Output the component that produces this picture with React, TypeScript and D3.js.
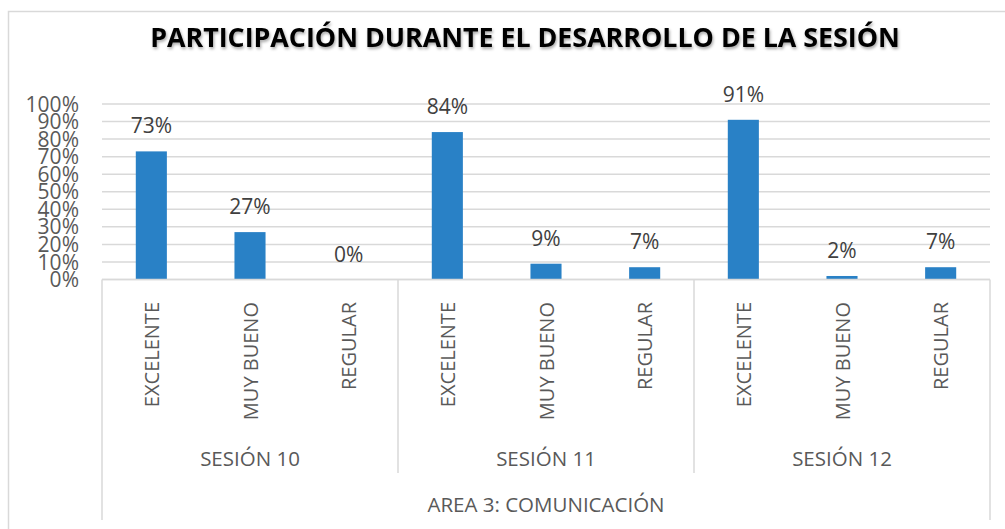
import React from 'react';
import * as d3 from 'd3';

// data
const sessions = ['SESIÓN 10', 'SESIÓN 11', 'SESIÓN 12'];
const ratings = ['EXCELENTE', 'MUY BUENO', 'REGULAR'];
const sesion10 = [73, 27, 0];
const sesion11 = [84, 9, 7];
const sesion12 = [91, 2, 7];
const yTicks = [0, 10, 20, 30, 40, 50, 60, 70, 80, 90, 100];
const title = 'PARTICIPACIÓN DURANTE EL DESARROLLO DE LA SESIÓN';
const areaLabel = 'AREA 3: COMUNICACIÓN';

const FONT = '"Open Sans", "Noto Sans", sans-serif';
const GRID = '#d9d9d9';
const BAR = '#2981c6';

export default function App() {
  const width = 1005;
  const height = 529;
  const left = 102;
  const right = 990;
  const top = 104;
  const baseline = 279.5;

  const rows = [sesion10, sesion11, sesion12];
  const bars = rows.flatMap((vals, g) =>
    vals.map((v, i) => ({ key: `${g}-${i}`, group: g, rating: ratings[i], value: v }))
  );

  const x = d3.scaleBand<string>()
    .domain(bars.map((d) => d.key))
    .range([left, right])
    .padding(0);
  const barW = x.bandwidth() * 0.315;

  const y = d3.scaleLinear().domain([0, 100]).range([baseline, top]);

  const groupX = d3.scaleBand<number>()
    .domain(sessions.map((_, i) => i))
    .range([left, right])
    .padding(0);

  return (
    <svg width={width} height={height} style={{ position: 'absolute', left: 0, top: 0 }}
      fontFamily={FONT}>
      <defs>
        <filter id="shadow" x="-5%" y="-30%" width="110%" height="160%">
          <feDropShadow dx="1" dy="2" stdDeviation="1.5" floodColor="#000" floodOpacity="0.35" />
        </filter>
      </defs>
      <rect x={0} y={0} width={width} height={height} fill="#fff" />
      {/* chart frame */}
      <path d={`M8.5,${height} V11.5 H${width}`} fill="none" stroke={GRID} strokeWidth={1.5} />

      <text x={525} y={47} textAnchor="middle" fontWeight="bold" fontSize={26.8}
        fill="#000" filter="url(#shadow)">{title}</text>

      {/* gridlines */}
      {yTicks.map((t) => (
        <line key={t} x1={left} x2={right} y1={y(t)} y2={y(t)} stroke={GRID} strokeWidth={1.5} />
      ))}
      {yTicks.map((t) => (
        <text key={'l' + t} x={79} y={y(t)} dy="0.36em" textAnchor="end" fontSize={21}
          fill="#595959">{t}%</text>
      ))}

      {/* bars */}
      {bars.map((d) => {
        const cx = (x(d.key) as number) + x.bandwidth() / 2;
        return (
          <g key={d.key}>
            <rect x={cx - barW / 2} y={y(d.value)} width={barW} height={baseline - y(d.value)}
              fill={BAR} />
            <text x={cx} y={y(d.value) - 18} textAnchor="middle" fontSize={21}
              fill="#404040">{d.value}%</text>
            <text transform={`translate(${cx + 7.5},302) rotate(-90)`} textAnchor="end"
              fontSize={20} fill="#595959">{d.rating}</text>
          </g>
        );
      })}

      {/* category axis box */}
      <line x1={left} x2={right} y1={baseline} y2={baseline} stroke={GRID} strokeWidth={1.5} />
      <line x1={left} x2={left} y1={baseline} y2={520} stroke={GRID} strokeWidth={1.5} />
      <line x1={right} x2={right} y1={baseline} y2={520} stroke={GRID} strokeWidth={1.5} />
      {sessions.slice(1).map((s, i) => {
        const gx = groupX(i + 1) as number;
        return <line key={s} x1={gx} x2={gx} y1={baseline} y2={473} stroke={GRID} strokeWidth={1.5} />;
      })}
      {sessions.map((s, i) => (
        <text key={s} x={(groupX(i) as number) + groupX.bandwidth() / 2} y={466}
          textAnchor="middle" fontSize={20.5} fill="#595959">{s}</text>
      ))}
      <text x={(left + right) / 2} y={512} textAnchor="middle" fontSize={20.5}
        fill="#595959">{areaLabel}</text>
    </svg>
  );
}
